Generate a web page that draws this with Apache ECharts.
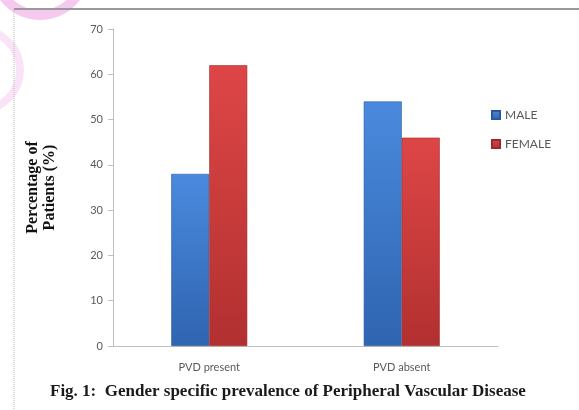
<!DOCTYPE html>
<html>
<head>
<meta charset="utf-8">
<script src="https://cdn.jsdelivr.net/npm/echarts@6/dist/echarts.min.js"></script>
<style>
  html, body { margin: 0; padding: 0; background: #fff; }
  #chart { width: 579px; height: 410px; }
</style>
</head>
<body>
<div id="chart"></div>
<script>
// data
const categories = ['PVD present', 'PVD absent'];
const male = [38, 54];
const female = [62, 46];
const yTicks = [0, 10, 20, 30, 40, 50, 60, 70];

const chart = echarts.init(document.getElementById('chart'), null, { renderer: 'canvas' });

const grad = (top, bottom) => new echarts.graphic.LinearGradient(0, 0, 0, 1, [
  { offset: 0, color: top },
  { offset: 1, color: bottom }
]);

chart.setOption({
  backgroundColor: '#fff',
  animation: false,
  grid: { left: 113, right: 81, top: 29, bottom: 64 },
  legend: {
    orient: 'vertical',
    left: 486,
    top: 104,
    itemWidth: 8,
    itemHeight: 8,
    itemGap: 17,
    icon: 'rect',
    textStyle: { color: '#595959', fontSize: 12, fontFamily: 'Lato' },
    data: ['MALE', 'FEMALE']
  },
  xAxis: {
    type: 'category',
    data: categories,
    axisLine: { lineStyle: { color: '#bfbfbf' } },
    axisTick: { length: 5, lineStyle: { color: '#bfbfbf' } },
    axisLabel: { color: '#595959', fontSize: 11, fontFamily: 'Lato', margin: 16 }
  },
  yAxis: {
    type: 'value',
    min: yTicks[0],
    max: yTicks[yTicks.length - 1],
    interval: 10,
    name: 'Percentage of\nPatients (%)',
    nameLocation: 'middle',
    nameGap: 55,
    nameTextStyle: { color: '#111', fontSize: 16, fontWeight: 'bold', fontFamily: 'Liberation Serif', lineHeight: 17 },
    axisLine: { show: true, lineStyle: { color: '#bfbfbf' } },
    axisTick: { show: true, length: 5, lineStyle: { color: '#bfbfbf' } },
    axisLabel: { color: '#595959', fontSize: 11, fontFamily: 'Lato', margin: 10 },
    splitLine: { show: false }
  },
  series: [
    {
      name: 'MALE', type: 'bar', data: male, barWidth: 38, barGap: '0%',
      itemStyle: { color: grad('#4a8ade', '#2f64b0'), borderColor: '#2a5a9c', borderWidth: 0.6 }
    },
    {
      name: 'FEMALE', type: 'bar', data: female, barWidth: 38,
      itemStyle: { color: grad('#de4646', '#b23030'), borderColor: '#9c2a2a', borderWidth: 0.6 }
    }
  ],
  graphic: [
    // page decoration behind the figure
    { type: 'arc', shape: { cx: 40, cy: -30, r: 45, startAngle: 0, endAngle: Math.PI }, style: { stroke: '#f6c9ef', lineWidth: 10, fill: null }, silent: true, z: -1 },
    { type: 'arc', shape: { cx: -20, cy: 70, r: 40, startAngle: -Math.PI / 2, endAngle: Math.PI / 2 }, style: { stroke: '#fbe3f7', lineWidth: 8, fill: null }, silent: true, z: -1 },
    { type: 'line', shape: { x1: 14, y1: 9, x2: 579, y2: 9 }, style: { stroke: '#999', lineWidth: 2 } },
    { type: 'line', shape: { x1: 14, y1: 10, x2: 14, y2: 410 }, style: { stroke: '#bbb', lineWidth: 1, lineDash: [1, 1] } },
    {
      type: 'text', left: 50, top: 383,
      style: {
        text: 'Fig. 1:  Gender specific prevalence of Peripheral Vascular Disease',
        fill: '#1a1a1a', font: 'bold 17px "Liberation Serif"'
      }
    }
  ]
});
</script>
</body>
</html>
